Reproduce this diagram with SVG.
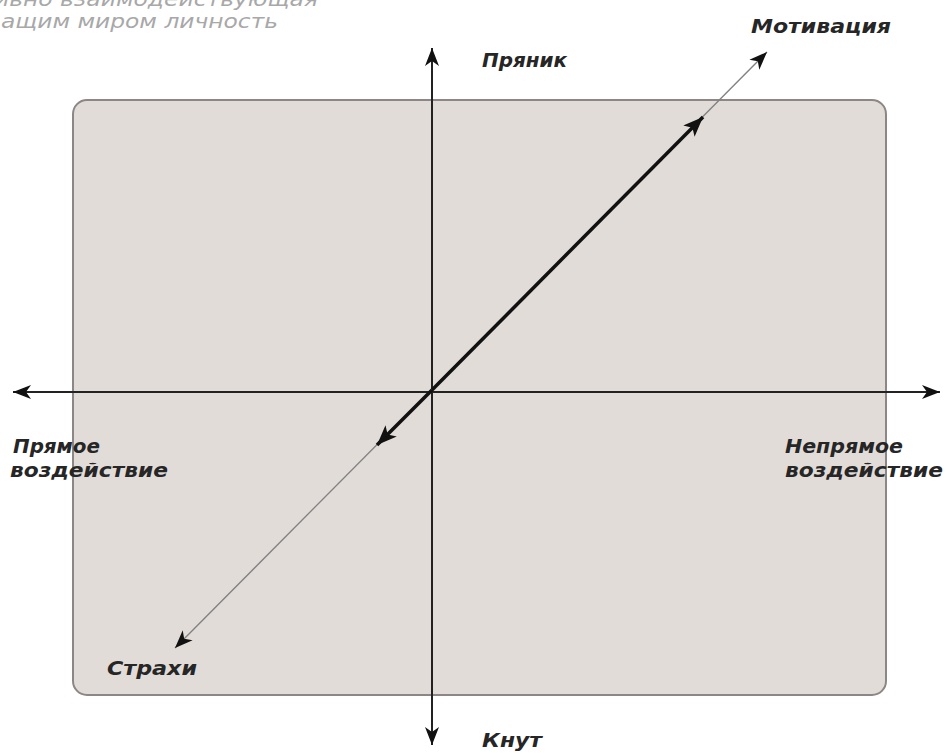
<svg xmlns="http://www.w3.org/2000/svg" width="946" height="754" viewBox="0 0 946 754">
<style>
.lbl{font-family:"DejaVu Sans","Open Sans",sans-serif;font-style:italic;font-weight:bold;font-size:19px;fill:#262626}
.faded{font-family:"DejaVu Sans","Open Sans",sans-serif;font-style:italic;font-size:19px;fill:#a8a8a8}
.axis{stroke:#222;stroke-width:2;fill:none}
.thin{stroke:#808080;stroke-width:1.3;fill:none}
.thick{stroke:#111;stroke-width:3.5;fill:none}
</style>
<defs>
<marker id="ah" markerUnits="userSpaceOnUse" markerWidth="20" markerHeight="16" viewBox="0 0 20 16" refX="18" refY="8" orient="auto-start-reverse">
<path d="M0,1 L18,8 L0,15 L5,8 z" fill="#111"/>
</marker>
<marker id="ahb" markerUnits="userSpaceOnUse" markerWidth="22" markerHeight="18" viewBox="0 0 22 18" refX="20" refY="9" orient="auto">
<path d="M0,1 L20,9 L0,17 L5,9 z" fill="#111"/>
</marker>
</defs>
<rect width="946" height="754" fill="#fff"/>
<g id="caption">
<text class="faded" x="-6" y="6" textLength="324" lengthAdjust="spacingAndGlyphs">ивно взаимодействующая</text>
<text class="faded" x="1" y="28" textLength="277" lengthAdjust="spacingAndGlyphs">ащим миром личность</text>
</g>
<g id="field">
<rect x="73" y="100" width="813" height="595" rx="14" ry="14" fill="#e2dcd9" stroke="#8c8786" stroke-width="2"/>
</g>
<g id="connectors">
<line class="axis" x1="432" y1="745" x2="432" y2="48" marker-start="url(#ah)" marker-end="url(#ah)"/>
<line class="axis" x1="13" y1="392" x2="940" y2="392" marker-start="url(#ah)" marker-end="url(#ah)"/>
<line class="thin" x1="175" y1="648" x2="767" y2="52" marker-start="url(#ah)" marker-end="url(#ah)"/>
<line class="thick" x1="432" y1="390" x2="703" y2="117" marker-end="url(#ahb)"/>
<line class="thick" x1="432" y1="390" x2="377" y2="445" marker-end="url(#ahb)"/>
</g>
<g id="node-pryanik"><text class="lbl" x="482" y="67" textLength="85" lengthAdjust="spacingAndGlyphs">Пряник</text></g>
<g id="node-knut"><text class="lbl" x="482" y="747" textLength="60" lengthAdjust="spacingAndGlyphs">Кнут</text></g>
<g id="node-motivatsiya"><text class="lbl" x="751" y="33" textLength="140" lengthAdjust="spacingAndGlyphs">Мотивация</text></g>
<g id="node-strakhi"><text class="lbl" x="107" y="675" textLength="90" lengthAdjust="spacingAndGlyphs">Страхи</text></g>
<g id="node-pryamoe">
<text class="lbl" x="13" y="453" textLength="87" lengthAdjust="spacingAndGlyphs">Прямое</text>
<text class="lbl" x="10" y="477" textLength="158" lengthAdjust="spacingAndGlyphs">воздействие</text>
</g>
<g id="node-nepryamoe">
<text class="lbl" x="785" y="453" textLength="118" lengthAdjust="spacingAndGlyphs">Непрямое</text>
<text class="lbl" x="785" y="477" textLength="158" lengthAdjust="spacingAndGlyphs">воздействие</text>
</g>
</svg>
